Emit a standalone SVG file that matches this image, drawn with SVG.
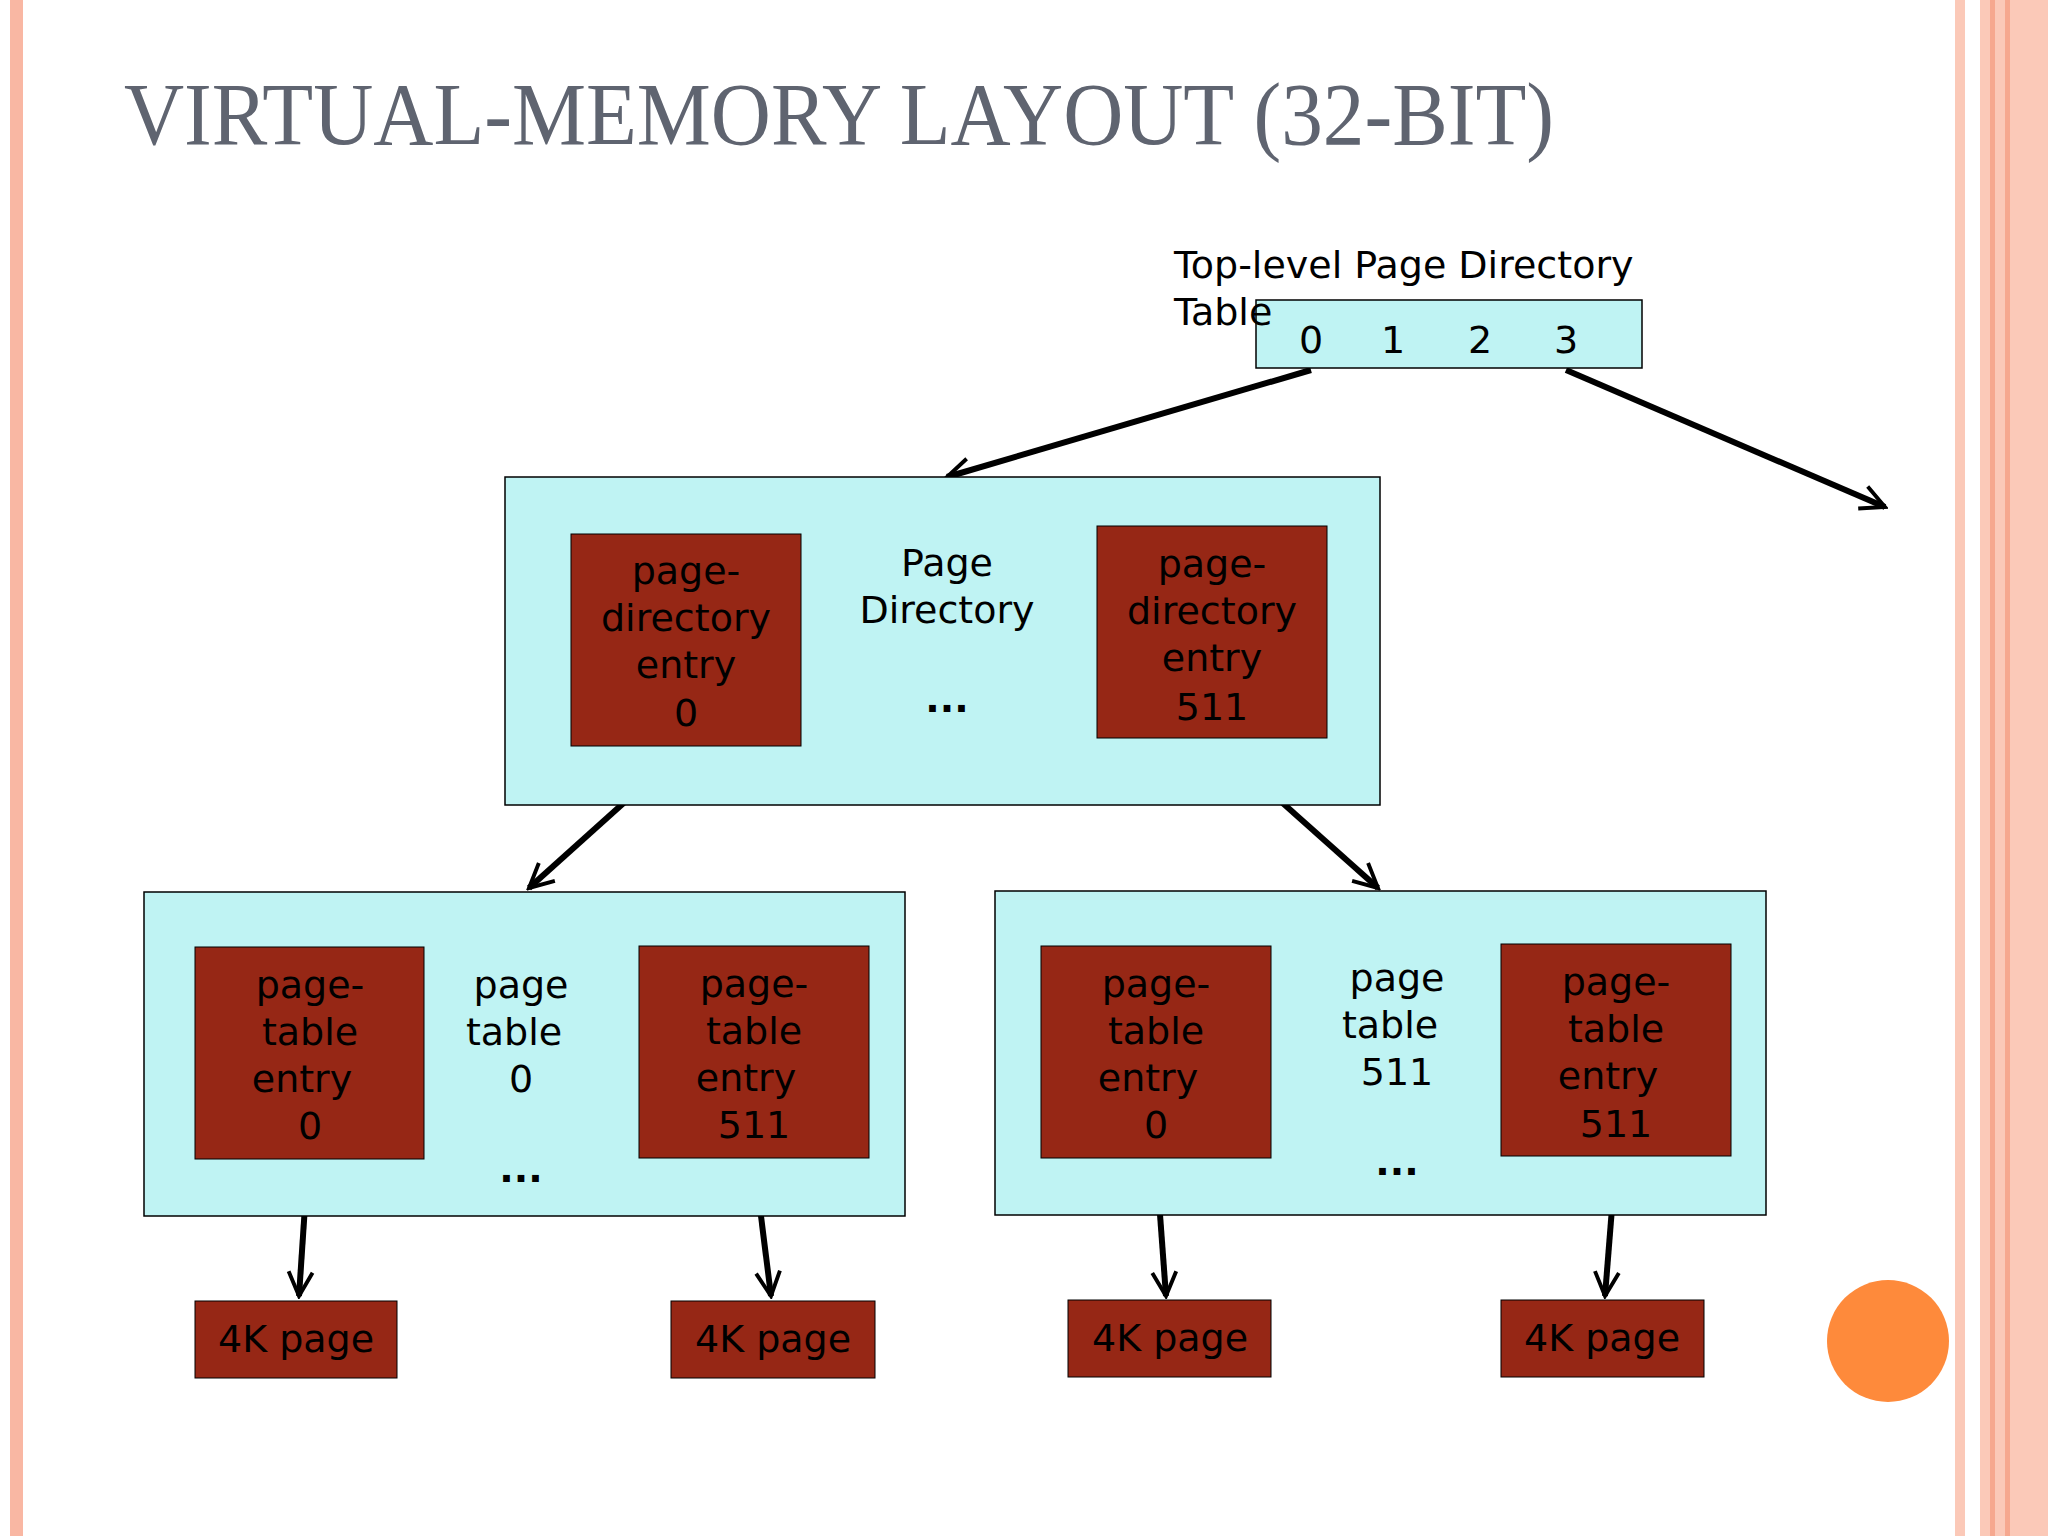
<svg xmlns="http://www.w3.org/2000/svg" width="2048" height="1536" viewBox="0 0 2048 1536">
<style>
.box{fill:#bff3f3;stroke:#000;stroke-width:1.5}
.red{fill:#962715;stroke:#000;stroke-width:1}
.t{font-family:"DejaVu Sans",Verdana,sans-serif;font-size:38px;fill:#000;text-anchor:middle}
.tw{font-family:"DejaVu Sans",Verdana,sans-serif;font-size:38px;fill:#000;text-anchor:middle}
.arr{stroke:#000;stroke-width:6;fill:none;marker-end:url(#ah)}
</style>
<defs>
<marker id="ah" viewBox="0 0 10 10" refX="9" refY="5" markerWidth="5" markerHeight="5" orient="auto" markerUnits="strokeWidth">
<polyline points="1,1 9,5 1,9" fill="none" stroke="#000" stroke-width="1.3"/>
</marker>
</defs>
<rect width="2048" height="1536" fill="#fff"/>
<rect x="10" y="0" width="13" height="1536" fill="#f9b7a3"/>
<rect x="1955" y="0" width="10" height="1536" fill="#fbc9b8"/>
<rect x="1980" y="0" width="68" height="1536" fill="#fbc9b8"/>
<rect x="1990" y="0" width="5" height="1536" fill="#f6a88f"/>
<rect x="2005" y="0" width="5" height="1536" fill="#f6a88f"/>
<text x="124" y="144" font-family="Liberation Serif,serif" font-size="88" fill="#5f6470" textLength="1430" lengthAdjust="spacingAndGlyphs">VIRTUAL-MEMORY LAYOUT (32-BIT)</text>

<g id="connectors">
<line class="arr" x1="1311" y1="370" x2="947" y2="477"/>
<line class="arr" x1="1566" y1="370" x2="1885" y2="507"/>
<line class="arr" x1="686" y1="747" x2="529" y2="888"/>
<line class="arr" x1="1212" y1="740" x2="1378" y2="888"/>
<line class="arr" x1="308" y1="1161" x2="299" y2="1296"/>
<line class="arr" x1="754" y1="1160" x2="771" y2="1296"/>
<line class="arr" x1="1156" y1="1160" x2="1166" y2="1296"/>
<line class="arr" x1="1616" y1="1158" x2="1605" y2="1296"/>
</g>

<g id="top">
<rect class="box" x="1256" y="300" width="386" height="68"/>
<text x="1174" y="278" font-family="DejaVu Sans,sans-serif" font-size="38">Top-level Page Directory</text>
<text x="1174" y="325" font-family="DejaVu Sans,sans-serif" font-size="38">Table</text>
<text class="t" x="1311" y="353">0</text><text class="t" x="1393" y="353">1</text><text class="t" x="1480" y="353">2</text><text class="t" x="1566" y="353">3</text>
</g>

<g id="pagedir">
<rect class="box" x="505" y="477" width="875" height="328"/>
<text class="t" x="947" y="576">Page</text><text class="t" x="947" y="623">Directory</text>
<text class="t" x="947" y="712" font-weight="bold">...</text>
</g>
<g id="pde0">
<rect class="red" x="571" y="534" width="230" height="212"/>
<text class="t" x="686" y="584">page-</text><text class="t" x="686" y="631">directory</text><text class="t" x="686" y="678">entry</text><text class="t" x="686" y="726">0</text>
</g>
<g id="pde511">
<rect class="red" x="1097" y="526" width="230" height="212"/>
<text class="t" x="1212" y="577">page-</text><text class="t" x="1212" y="624">directory</text><text class="t" x="1212" y="671">entry</text><text class="t" x="1212" y="720">511</text>
</g>

<g id="pt0">
<rect class="box" x="144" y="892" width="761" height="324"/>
<text class="t" x="521" y="998">page</text><text class="t" x="514" y="1045">table</text><text class="t" x="521" y="1092">0</text>
<text class="t" x="521" y="1182" font-weight="bold">...</text>
</g>
<g id="pt0e0">
<rect class="red" x="195" y="947" width="229" height="212"/>
<text class="t" x="310" y="998">page-</text><text class="t" x="310" y="1045">table</text><text class="t" x="302" y="1092">entry</text><text class="t" x="310" y="1139">0</text>
</g>
<g id="pt0e511">
<rect class="red" x="639" y="946" width="230" height="212"/>
<text class="t" x="754" y="997">page-</text><text class="t" x="754" y="1044">table</text><text class="t" x="746" y="1091">entry</text><text class="t" x="754" y="1138">511</text>
</g>

<g id="pt511">
<rect class="box" x="995" y="891" width="771" height="324"/>
<text class="t" x="1397" y="991">page</text><text class="t" x="1390" y="1038">table</text><text class="t" x="1397" y="1085">511</text>
<text class="t" x="1397" y="1175" font-weight="bold">...</text>
</g>
<g id="pt511e0">
<rect class="red" x="1041" y="946" width="230" height="212"/>
<text class="t" x="1156" y="997">page-</text><text class="t" x="1156" y="1044">table</text><text class="t" x="1148" y="1091">entry</text><text class="t" x="1156" y="1138">0</text>
</g>
<g id="pt511e511">
<rect class="red" x="1501" y="944" width="230" height="212"/>
<text class="t" x="1616" y="995">page-</text><text class="t" x="1616" y="1042">table</text><text class="t" x="1608" y="1089">entry</text><text class="t" x="1616" y="1137">511</text>
</g>

<g id="pg1"><rect class="red" x="195" y="1301" width="202" height="77"/><text class="t" x="296" y="1352">4K page</text></g>
<g id="pg2"><rect class="red" x="671" y="1301" width="204" height="77"/><text class="t" x="773" y="1352">4K page</text></g>
<g id="pg3"><rect class="red" x="1068" y="1300" width="203" height="77"/><text class="t" x="1170" y="1351">4K page</text></g>
<g id="pg4"><rect class="red" x="1501" y="1300" width="203" height="77"/><text class="t" x="1602" y="1351">4K page</text></g>

<circle cx="1888" cy="1341" r="61" fill="#fe8a3b"/>
</svg>
